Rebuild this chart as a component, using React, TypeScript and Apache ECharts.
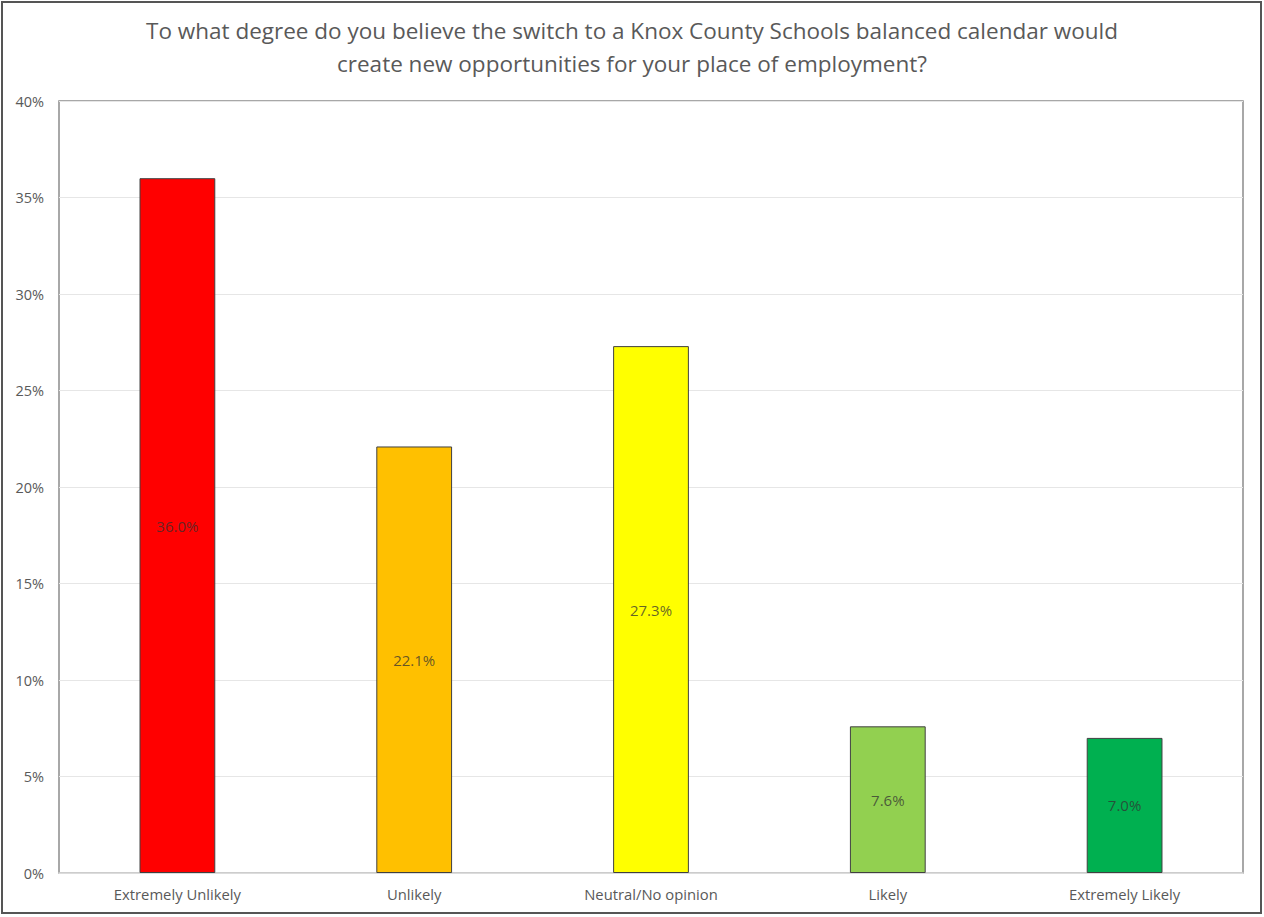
import React, { useEffect, useRef } from "react";
import * as echarts from "echarts";

const categories = ["Extremely Unlikely", "Unlikely", "Neutral/No opinion", "Likely", "Extremely Likely"];
const values = [36.0, 22.1, 27.3, 7.6, 7.0];
const barColors = ["#FF0000", "#FFC000", "#FFFF00", "#92D050", "#00B050"];
const titleLines = [
  "To what degree do you believe the switch to a Knox County Schools balanced calendar would",
  "create new opportunities for your place of employment?",
];

export default function App() {
  const ref = useRef<HTMLDivElement>(null);
  useEffect(() => {
    if (!ref.current) return;
    const chart = echarts.init(ref.current, null, { renderer: "svg" });
    const font = "'Open Sans', 'Noto Sans', sans-serif";
    chart.setOption({
      animation: false,
      backgroundColor: "#ffffff",
      title: {
        text: titleLines.join("\n"),
        left: "center",
        top: 9,
        textStyle: {
          fontFamily: font,
          fontSize: 22.5,
          fontWeight: "normal",
          color: "#595959",
          lineHeight: 33,
        },
      },
      graphic: [
        {
          type: "rect",
          shape: { x: 2, y: 2, width: 1259, height: 911 },
          style: { fill: "none", stroke: "#555555", lineWidth: 2 },
          silent: true,
        },
      ],
      grid: {
        left: 59,
        right: 21,
        top: 101,
        bottom: 44,
        show: true,
        borderColor: "#8c8c8c",
        borderWidth: 1.5,
      },
      xAxis: {
        type: "category",
        data: categories,
        axisLine: { show: true, lineStyle: { color: "#d9d9d9", width: 1.5 } },
        axisTick: { show: false },
        axisLabel: { color: "#595959", fontFamily: font, fontSize: 14.8, margin: 13 },
      },
      yAxis: {
        type: "value",
        min: 0,
        max: 40,
        interval: 5,
        axisLine: { show: false },
        axisTick: { show: false },
        splitLine: { lineStyle: { color: "#e6e6e6", width: 1 } },
        axisLabel: {
          color: "#595959",
          fontFamily: font,
          fontSize: 14.5,
          margin: 15,
          formatter: (v: number) => `${v}%`,
        },
      },
      series: [
        {
          type: "bar",
          barWidth: "32%",
          data: values.map((v, i) => ({
            value: v,
            itemStyle: { color: barColors[i], borderColor: "#404040", borderWidth: 1 },
          })),
          label: {
            show: true,
            position: "inside",
            color: "rgba(50,50,50,0.75)",
            fontFamily: font,
            fontSize: 15,
            formatter: (p: any) => `${Number(p.value).toFixed(1)}%`,
          },
        },
      ],
    });
    return () => chart.dispose();
  }, []);
  return (
    <div
      ref={ref}
      style={{ position: "fixed", left: 0, top: 0, width: 1264, height: 917 }}
    />
  );
}
